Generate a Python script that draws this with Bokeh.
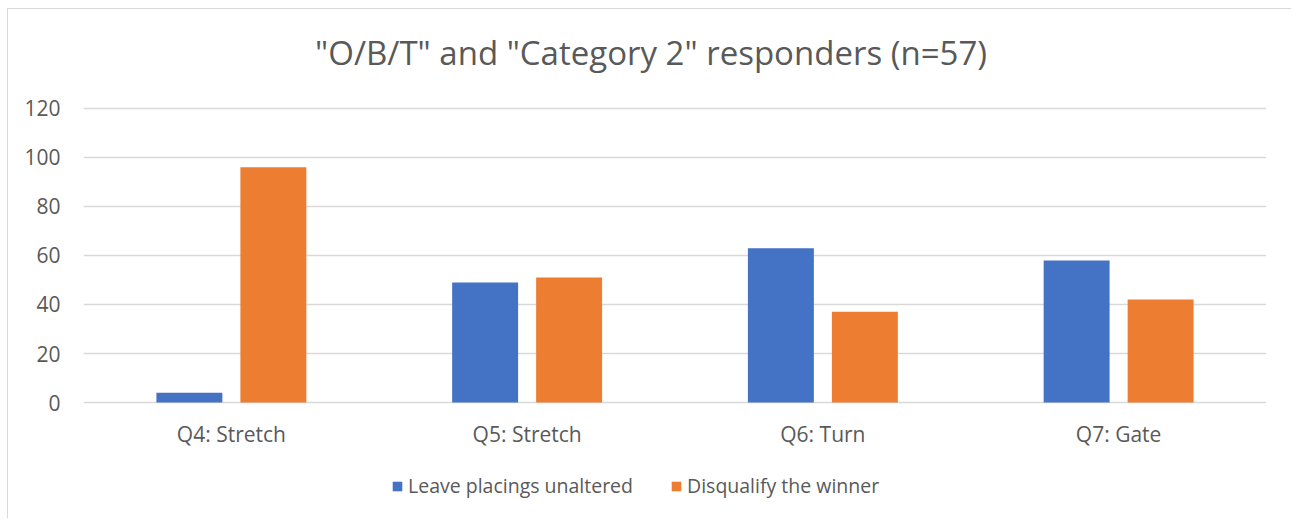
from bokeh.plotting import figure
from bokeh.models import ColumnDataSource, FactorRange, Legend, LegendItem, FixedTicker, Label
from bokeh.core.properties import value
from bokeh.transform import dodge
from bokeh.embed import file_html
from bokeh.resources import INLINE

categories = ["Q4: Stretch", "Q5: Stretch", "Q6: Turn", "Q7: Gate"]
leave_unaltered = [4, 49, 63, 58]
disqualify_winner = [96, 51, 37, 42]
series_names = ["Leave placings unaltered", "Disqualify the winner"]
y_ticks = [0, 20, 40, 60, 80, 100, 120]
title_text = '"O/B/T" and "Category 2" responders (n=57)'

FONT = "Open Sans"
TXT = "#595959"

src = ColumnDataSource(dict(cat=categories, leave=leave_unaltered, disq=disqualify_winner))

# the frame spans the full height so the title, category labels and legend sit inside it
p = figure(width=1284, height=510,
           x_range=FactorRange(factors=categories),
           y_range=(-47.755, 160.408),
           x_axis_location=None,
           output_backend="svg", toolbar_location=None,
           min_border_left=75, min_border_right=26,
           min_border_top=0, min_border_bottom=0,
           margin=(8, 0, 0, 7))
p.styles = {"border-left": "1px solid #d9d9d9", "border-top": "1px solid #d9d9d9"}

r1 = p.vbar(x=dodge("cat", -0.142, range=p.x_range), top="leave", width=0.223,
            source=src, fill_color="#4472C4", line_color=None)
r2 = p.vbar(x=dodge("cat", 0.142, range=p.x_range), top="disq", width=0.223,
            source=src, fill_color="#ED7D31", line_color=None)

# category labels under the zero line
p.text(x="cat", y=0, text="cat", source=src, y_offset=31,
       text_align="center", text_baseline="middle",
       text_font=value(FONT), text_font_size="21px", text_color=TXT)

# chart title, centred on the whole chart area
p.add_layout(Label(x=1.919, y=142.85, text=title_text,
                   text_align="center", text_baseline="middle",
                   text_font=FONT, text_font_size="33px", text_color=TXT))

p.outline_line_color = None
p.xgrid.grid_line_color = None
p.ygrid.ticker = FixedTicker(ticks=y_ticks)
p.ygrid.grid_line_color = "#d9d9d9"
p.ygrid.grid_line_width = 1.5

p.yaxis.ticker = FixedTicker(ticks=y_ticks)
ax = p.yaxis[0]
ax.axis_line_color = None
ax.major_tick_line_color = None
ax.minor_tick_line_color = None
ax.major_tick_in = 0
ax.major_tick_out = 0
ax.minor_tick_out = 0
ax.major_label_text_font = FONT
ax.major_label_text_font_size = "21px"
ax.major_label_text_color = TXT
ax.major_label_standoff = 23

legend = Legend(items=[LegendItem(label=series_names[0], renderers=[r1]),
                       LegendItem(label=series_names[1], renderers=[r2])],
                orientation="horizontal", location=(308, 20),
                glyph_width=12, glyph_height=12, label_standoff=5, spacing=37,
                border_line_color=None, background_fill_alpha=0,
                label_text_font=FONT, label_text_font_size="19.5px",
                label_text_color=TXT, padding=0, margin=0)
p.add_layout(legend, "center")

open("out.html", "w").write(file_html(p, INLINE))
